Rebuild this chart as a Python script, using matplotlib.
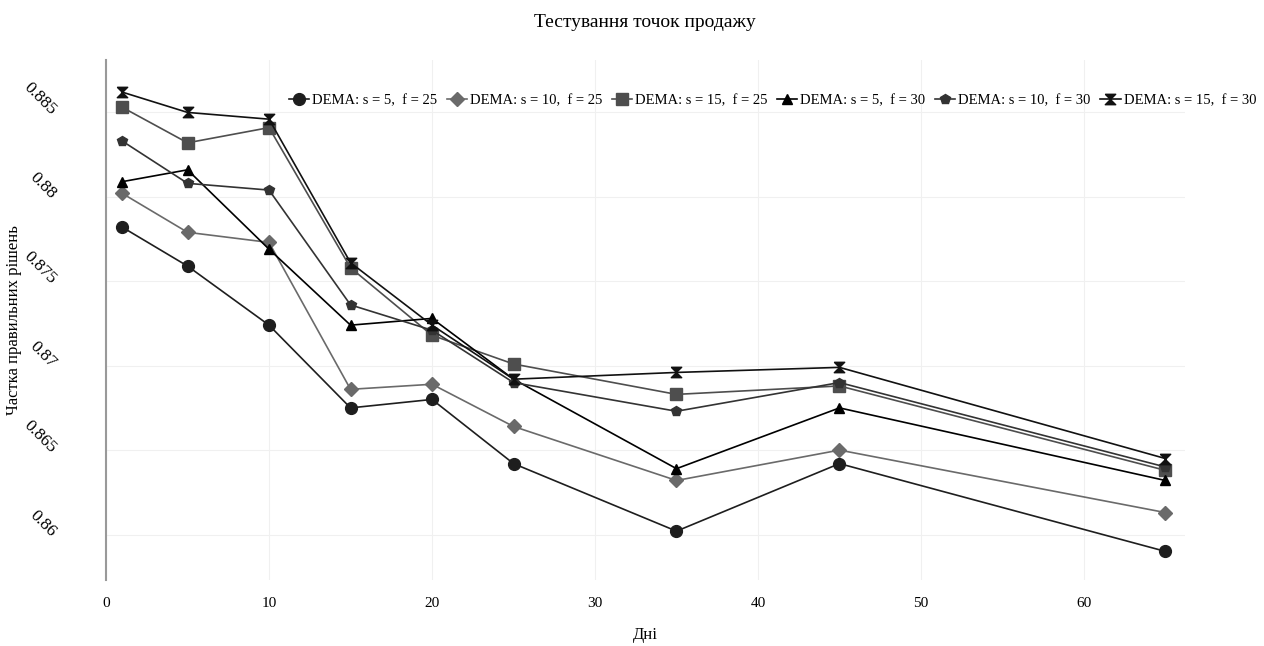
import numpy as np
import matplotlib.pyplot as plt

plt.rcParams['font.family'] = ['Liberation Serif', 'DejaVu Serif']

days = [1, 5, 10, 15, 20, 25, 35, 45, 65]
s5_f25 = [0.8782, 0.8759, 0.8724, 0.8675, 0.8680, 0.8642, 0.8602, 0.8642, 0.8590]
s10_f25 = [0.8802, 0.8779, 0.8773, 0.8686, 0.8689, 0.8664, 0.8632, 0.8650, 0.8613]
s15_f25 = [0.8853, 0.8832, 0.8841, 0.8758, 0.8718, 0.8701, 0.8683, 0.8688, 0.8638]
s5_f30 = [0.8809, 0.8816, 0.8769, 0.8724, 0.8728, 0.8692, 0.8639, 0.8675, 0.8632]
s10_f30 = [0.8833, 0.8808, 0.8804, 0.8736, 0.8721, 0.8690, 0.8673, 0.8690, 0.8640]
s15_f30 = [0.8862, 0.8850, 0.8846, 0.8761, 0.8724, 0.8692, 0.8696, 0.8699, 0.8645]

labels = ["DEMA: s = 5,  f = 25", "DEMA: s = 10,  f = 25", "DEMA: s = 15,  f = 25",
          "DEMA: s = 5,  f = 30", "DEMA: s = 10,  f = 30", "DEMA: s = 15,  f = 30"]

hourglass = [(-1, 1), (1, 1), (-1, -1), (1, -1), (-1, 1)]
styles = [
    dict(color='#1e1e1e', marker='o', ms=8.5),
    dict(color='#6a6a6a', marker='D', ms=7),
    dict(color='#4e4e4e', marker='s', ms=8),
    dict(color='#000000', marker='^', ms=7),
    dict(color='#333333', marker='p', ms=7.5),
    dict(color='#111111', marker=hourglass, ms=7.5),
]

fig = plt.figure(figsize=(12.64, 6.46), dpi=100)
ax = fig.add_axes([0.0839, 0.102, 0.8536, 0.805])

series = [s5_f25, s10_f25, s15_f25, s5_f30, s10_f30, s15_f30]
for vals, lab, st in zip(series, labels, styles):
    ax.plot(days, vals, label=lab, lw=1.2, **st)

ax.set_xlim(0, 66.2)
ax.set_ylim(0.8573, 0.8881)
ax.set_xticks([0, 10, 20, 30, 40, 50, 60])
ax.set_yticks([0.86, 0.865, 0.87, 0.875, 0.88, 0.885])
ax.set_yticklabels(['0.86', '0.865', '0.87', '0.875', '0.88', '0.885'], rotation=-45,
                   ha='right', va='center', rotation_mode='anchor')
ax.tick_params(axis='y', length=0, labelsize=12.5, pad=38)
ax.tick_params(axis='x', length=0, labelsize=11, pad=12)
ax.grid(True, color='#f0f0f0', lw=0.8)
for side in ['top', 'right', 'bottom']:
    ax.spines[side].set_visible(False)
ax.spines['left'].set_color('#999999')
ax.spines['left'].set_linewidth(1.5)

ax.set_xlabel('Дні', fontsize=12)
ax.set_ylabel('Частка правильних рішень', fontsize=12)
ax.xaxis.set_label_coords(0.5, -0.09)
ax.yaxis.set_label_coords(-0.078, 0.5)
fig.text(0.51, 0.965, 'Тестування точок продажу', ha='center', va='center', fontsize=14)

fig.legend(loc='center', bbox_to_anchor=(0.611, 0.845), ncol=6, frameon=False,
           fontsize=10.5, handlelength=1.4, handletextpad=0.2, columnspacing=0.65)

fig.savefig('out.png', dpi=100)
